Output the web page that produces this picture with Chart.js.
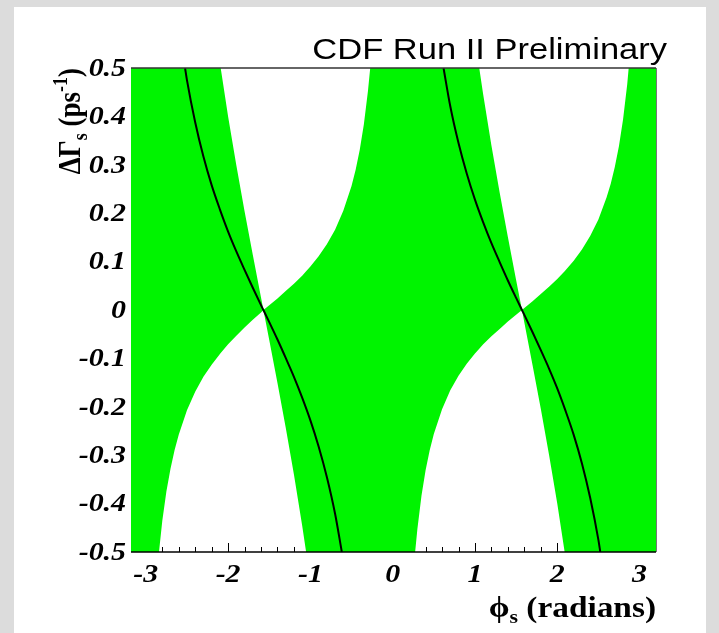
<!DOCTYPE html>
<html>
<head>
<meta charset="utf-8">
<script src="https://cdn.jsdelivr.net/npm/chart.js@4.4.1/dist/chart.umd.min.js"></script>
<style>
  html, body { margin: 0; padding: 0; background: #dcdcdc; }
  #wrap { width: 719px; height: 633px; }
</style>
</head>
<body>
<div id="wrap"><canvas id="cdfChart" width="719" height="633"></canvas></div>
<script>
// phi_s grid (radians) for the allowed band
var phiBand = [-3.18, -3.1416, -2.868, -2.84, -2.8, -2.75, -2.7, -2.65, -2.6, -2.5, -2.4, -2.3, -2.2, -2.09,
  -2.0, -1.9, -1.8, -1.7, -1.6, -1.571, -1.5, -1.4, -1.3, -1.2, -1.1, -1.052, -1.0, -0.9, -0.8, -0.7,
  -0.6, -0.5, -0.45, -0.4, -0.35, -0.3, -0.273, -0.2, -0.1, 0,
  0.1, 0.2, 0.273, 0.3, 0.35, 0.4, 0.45, 0.5, 0.6, 0.7, 0.8, 0.9, 1.0, 1.052, 1.1, 1.2, 1.3, 1.4,
  1.5, 1.571, 1.6, 1.7, 1.8, 1.9, 2.0, 2.09, 2.2, 2.3, 2.4, 2.5, 2.6, 2.65, 2.7, 2.75, 2.8, 2.85,
  2.868, 3.1416, 3.2];

// lower edge of the green band (DeltaGamma_s, ps^-1)
var bandLow = [-0.5, -0.5, -0.5, -0.5, -0.436, -0.375, -0.328, -0.289, -0.258, -0.207, -0.169, -0.138, -0.113, -0.089,
  -0.071, -0.053, -0.036, -0.020, -0.005, 0, -0.062, -0.151, -0.243, -0.340, -0.445, -0.5, -0.5, -0.5, -0.5, -0.5,
  -0.5, -0.5, -0.5, -0.5, -0.5, -0.5, -0.5, -0.5, -0.5, -0.5,
  -0.5, -0.5, -0.5, -0.453, -0.384, -0.331, -0.290, -0.256, -0.205, -0.166, -0.136, -0.111, -0.090, -0.080, -0.071, -0.054, -0.039, -0.024,
  -0.010, 0, -0.026, -0.114, -0.204, -0.299, -0.400, -0.5, -0.5, -0.5, -0.5, -0.5, -0.5, -0.5, -0.5, -0.5, -0.5, -0.5,
  -0.5, -0.5, -0.5];

// upper edge of the green band
var bandHigh = [0.5, 0.5, 0.5, 0.5, 0.5, 0.5, 0.5, 0.5, 0.5, 0.5, 0.5, 0.5, 0.5, 0.5,
  0.400, 0.299, 0.204, 0.114, 0.026, 0, 0.010, 0.024, 0.039, 0.054, 0.071, 0.080, 0.090, 0.111, 0.136, 0.166,
  0.205, 0.256, 0.290, 0.331, 0.384, 0.453, 0.5, 0.5, 0.5, 0.5,
  0.5, 0.5, 0.5, 0.5, 0.5, 0.5, 0.5, 0.5, 0.5, 0.5, 0.5, 0.5, 0.5, 0.5, 0.445, 0.340, 0.243, 0.151,
  0.062, 0, 0.004, 0.018, 0.033, 0.048, 0.064, 0.080, 0.102, 0.125, 0.153, 0.187, 0.233, 0.261, 0.296, 0.339, 0.394, 0.466,
  0.5, 0.5, 0.5];

// central curves (black)
var phiCurve1 = [-2.523, -2.5, -2.4, -2.3, -2.2, -2.1, -2.0, -1.9, -1.8, -1.7, -1.6, -1.571, -1.5, -1.4, -1.3, -1.2, -1.1, -1.0, -0.9, -0.8, -0.7, -0.618];
var curve1 = [0.5, 0.475, 0.388, 0.317, 0.258, 0.208, 0.162, 0.121, 0.083, 0.046, 0.010, 0, -0.025, -0.061, -0.099, -0.138, -0.181, -0.228, -0.282, -0.345, -0.421, -0.5];
var phiCurve2 = [0.618, 0.7, 0.8, 0.9, 1.0, 1.1, 1.2, 1.3, 1.4, 1.5, 1.571, 1.6, 1.7, 1.8, 1.9, 2.0, 2.1, 2.2, 2.3, 2.4, 2.5, 2.523];
var curve2 = [0.5, 0.421, 0.345, 0.282, 0.228, 0.181, 0.138, 0.099, 0.061, 0.025, 0, -0.010, -0.046, -0.083, -0.121, -0.162, -0.208, -0.258, -0.317, -0.388, -0.475, -0.5];

// axis ticks and labels
var xTicks = [-3, -2, -1, 0, 1, 2, 3];
var xTickLabels = ['-3', '-2', '-1', '0', '1', '2', '3'];
var yTicks = [0.5, 0.4, 0.3, 0.2, 0.1, 0, -0.1, -0.2, -0.3, -0.4, -0.5];
var yTickLabels = ['0.5', '0.4', '0.3', '0.2', '0.1', '0', '-0.1', '-0.2', '-0.3', '-0.4', '-0.5'];

var GREEN = '#00f400';
var STRETCH = 1.15;   // the original picture is a little wider than tall
var tickFont = 'bold italic 26px "Liberation Serif"';
var titleFont = 'bold 29px "Liberation Serif"';
var subFont = 'bold 19px "Liberation Serif"';

function pts(xs, ys) {
    return xs.map(function(x, i) { return { x: x, y: ys[i] }; });
}

// draw a list of [text, font, dy] parts starting at x on baseline y
function drawParts(ctx, parts, x, y) {
    parts.forEach(function(p) {
        ctx.font = p[1];
        ctx.fillText(p[0], x, y + p[2]);
        x += ctx.measureText(p[0]).width;
    });
}
function partsWidth(ctx, parts) {
    var w = 0;
    parts.forEach(function(p) { ctx.font = p[1]; w += ctx.measureText(p[0]).width; });
    return w;
}
// text stretched horizontally around its anchor
function wideText(ctx, text, x, y) {
    ctx.save();
    ctx.translate(x, y);
    ctx.scale(STRETCH, 1);
    ctx.fillText(text, 0, 0);
    ctx.restore();
}

var framePlugin = {
    id: 'frame',
    beforeDraw: function(chart) {
        var ctx = chart.ctx;
        ctx.save();
        ctx.fillStyle = '#dcdcdc';
        ctx.fillRect(0, 0, chart.width, chart.height);
        ctx.fillStyle = '#ffffff';
        ctx.fillRect(14, 7, 692, chart.height - 7);
        ctx.restore();
    },
    beforeDatasetsDraw: function(chart) {
        // small ticks on the bottom axis, pointing up (hidden where the band is)
        var ctx = chart.ctx, xs = chart.scales.x, a = chart.chartArea;
        ctx.save();
        ctx.strokeStyle = '#000';
        ctx.lineWidth = 1;
        for (var v = -3.0; v <= 3.01; v += 0.2) {
            var px = Math.round(xs.getPixelForValue(v)) + 0.5;
            var major = Math.abs(v - Math.round(v)) < 0.01;
            ctx.beginPath();
            ctx.moveTo(px, a.bottom);
            ctx.lineTo(px, a.bottom - (major ? 9 : 5));
            ctx.stroke();
        }
        ctx.restore();
    },
    afterDatasetsDraw: function(chart) {
        var ctx = chart.ctx, xs = chart.scales.x, ys = chart.scales.y, a = chart.chartArea;
        ctx.save();
        // frame lines
        ctx.lineWidth = 1.5;
        ctx.strokeStyle = '#333';
        ctx.beginPath(); ctx.moveTo(a.left, a.top); ctx.lineTo(a.right, a.top); ctx.stroke();
        ctx.lineWidth = 1;
        ctx.strokeStyle = '#777';
        ctx.beginPath(); ctx.moveTo(a.right + 0.5, a.top); ctx.lineTo(a.right + 0.5, a.bottom); ctx.stroke();
        ctx.lineWidth = 1.5;
        ctx.strokeStyle = '#000';
        ctx.beginPath(); ctx.moveTo(a.left, a.bottom); ctx.lineTo(a.right, a.bottom); ctx.stroke();

        // tick labels
        ctx.fillStyle = '#000';
        ctx.font = tickFont;
        ctx.textAlign = 'right';
        ctx.textBaseline = 'middle';
        yTicks.forEach(function(v, i) {
            wideText(ctx, yTickLabels[i], a.left - 5, ys.getPixelForValue(v) + 1);
        });
        ctx.textAlign = 'center';
        ctx.textBaseline = 'top';
        xTicks.forEach(function(v, i) {
            wideText(ctx, xTickLabels[i], xs.getPixelForValue(v), a.bottom + 10);
        });

        // x axis title: phi_s (radians)
        ctx.textAlign = 'left';
        ctx.textBaseline = 'alphabetic';
        var xParts = [['\u03d5', titleFont, 0], ['s', subFont, 6], [' (radians)', titleFont, 0]];
        ctx.save();
        ctx.translate(a.right, 617);
        ctx.scale(STRETCH, 1);
        drawParts(ctx, xParts, -partsWidth(ctx, xParts), 0);
        ctx.restore();

        // y axis title: DeltaGamma_s (ps^-1), rotated
        var yParts = [['\u0394\u0393', 'bold 27px "Liberation Serif"', 0], ['s', 'bold 18px "Liberation Serif"', 6],
            [' (ps', 'bold 27px "Liberation Serif"', 0], ['-1', 'bold 18px "Liberation Serif"', -11],
            [')', 'bold 27px "Liberation Serif"', 0]];
        var w = partsWidth(ctx, yParts);
        ctx.translate(80, a.top + w);
        ctx.scale(STRETCH, 1);
        ctx.rotate(-Math.PI / 2);
        drawParts(ctx, yParts, 0, 0);
        ctx.restore();

        // main title
        ctx.save();
        ctx.font = '30px "Liberation Sans"';
        ctx.fillStyle = '#000';
        ctx.textAlign = 'right';
        ctx.textBaseline = 'alphabetic';
        ctx.translate(667, 59);
        ctx.scale(STRETCH, 1);
        ctx.fillText('CDF Run II Preliminary', 0, 0);
        ctx.restore();
    }
};

var ctx = document.getElementById('cdfChart').getContext('2d');
var chart = new Chart(ctx, {
    type: 'line',
    data: {
        datasets: [{
            label: 'band low',
            data: pts(phiBand, bandLow),
            borderColor: 'rgba(0,0,0,0)',
            borderWidth: 0,
            pointRadius: 0,
            tension: 0,
            fill: false,
            order: 2
        }, {
            label: 'band high',
            data: pts(phiBand, bandHigh),
            borderColor: 'rgba(0,0,0,0)',
            borderWidth: 0,
            backgroundColor: GREEN,
            pointRadius: 0,
            tension: 0,
            fill: '-1',
            order: 1
        }, {
            label: 'central 1',
            data: pts(phiCurve1, curve1),
            borderColor: '#000',
            borderWidth: 2,
            pointRadius: 0,
            cubicInterpolationMode: 'monotone',
            fill: false,
            order: 0
        }, {
            label: 'central 2',
            data: pts(phiCurve2, curve2),
            borderColor: '#000',
            borderWidth: 2,
            pointRadius: 0,
            cubicInterpolationMode: 'monotone',
            fill: false,
            order: 0
        }]
    },
    options: {
        responsive: false,
        animation: false,
        layout: { padding: { left: 131, right: 63, top: 68, bottom: 81 } },
        plugins: {
            legend: { display: false },
            tooltip: { enabled: false },
            title: { display: false }
        },
        scales: {
            x: { type: 'linear', min: -3.18, max: 3.2, display: false },
            y: { type: 'linear', min: -0.5, max: 0.5, display: false }
        }
    },
    plugins: [framePlugin]
});
</script>
</body>
</html>
